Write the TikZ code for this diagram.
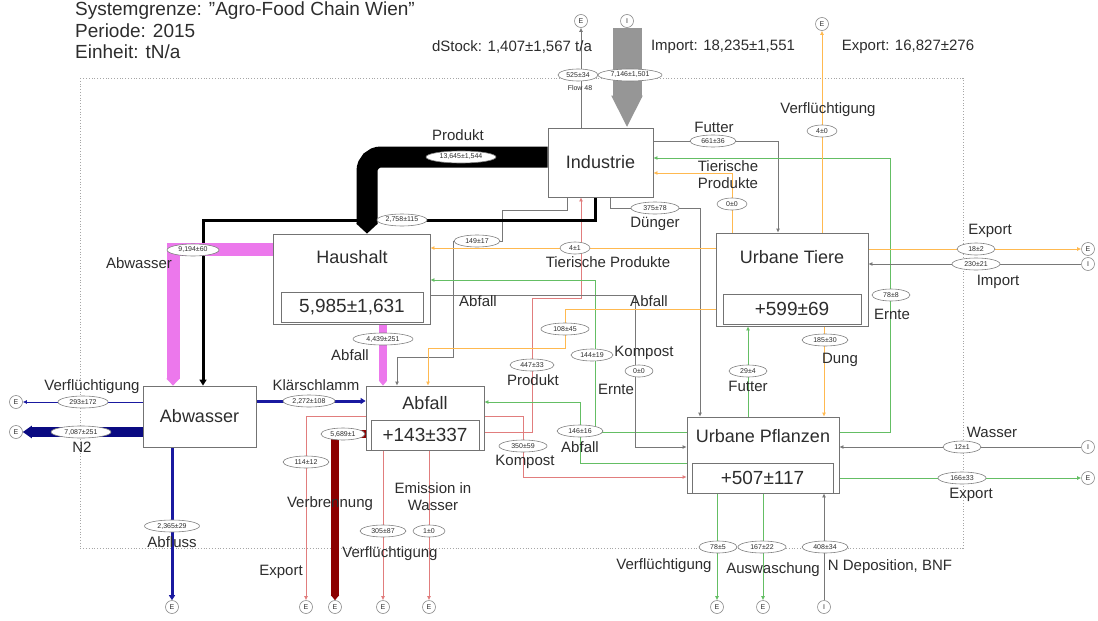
\documentclass[tikz,border=0pt]{standalone}
\usepackage{fontspec}
\setmainfont{Liberation Sans}
\usetikzlibrary{arrows.meta,calc,shapes.geometric}
\definecolor{cgray}{RGB}{120,120,120}
\definecolor{corange}{RGB}{255,185,80}
\definecolor{cgreen}{RGB}{100,190,100}
\definecolor{cred}{RGB}{225,125,125}
\definecolor{cdred}{RGB}{140,0,0}
\definecolor{cblue}{RGB}{25,25,160}
\definecolor{cnavy}{RGB}{10,10,130}
\definecolor{cpink}{RGB}{236,120,236}
\definecolor{cimp}{RGB}{150,150,150}
\definecolor{ctext}{RGB}{45,45,45}
\pgfdeclarelayer{bg}
\pgfdeclarelayer{edges}
\pgfsetlayers{bg,edges,main}
\begin{document}
\begin{tikzpicture}[x=1pt,y=-1pt,
  procbox/.style={draw=black!55,fill=white,line width=0.8pt,inner sep=0pt},
  innerbox/.style={draw=black!55,fill=white,line width=0.8pt,inner sep=0pt,font=\fontsize{19}{21}\selectfont,text=ctext},
  boxlbl/.style={inner sep=0pt,font=\fontsize{18}{20}\selectfont,text=ctext},
  lbl/.style={inner sep=0pt,font=\fontsize{15}{17}\selectfont,text=ctext,align=center},
  ttl/.style={inner sep=0pt,anchor=base west,font=\fontsize{19}{22}\selectfont,text=ctext},
  val/.style={ellipse,draw=black!50,fill=white,line width=0.6pt,inner sep=0pt,minimum height=12pt,font=\fontsize{7}{8}\selectfont,text=ctext},
  ept/.style={circle,draw=black!45,fill=white,line width=0.6pt,minimum size=13pt,inner sep=0pt,font=\fontsize{7}{7}\selectfont,text=ctext},
  tip/.style={-{Latex[length=4pt,width=4pt]}},
  fgray/.style={draw=cgray,line width=0.9pt,tip},
  forange/.style={draw=corange,line width=0.9pt,tip},
  fgreen/.style={draw=cgreen,line width=0.9pt,tip},
  fred/.style={draw=cred,line width=0.9pt,tip},
  fblue/.style={draw=cblue,line width=0.9pt,tip}
]
\useasboundingbox (0,0) rectangle (1098,621);
\begin{pgfonlayer}{bg}
\fill[white] (0,0) rectangle (1098,621);
\draw[black!35,line width=0.8pt,dotted] (80,78) rectangle (963,548);
\end{pgfonlayer}

% title
\node[ttl] (t1) at (75,16) {Systemgrenze: \symbol{34}Agro-Food Chain Wien\symbol{34}};
\node[ttl] (t2) at (75,37) {Periode: 2015};
\node[ttl] (t3) at (75,58) {Einheit: tN/a};
\node[lbl] (ds) at (512,47) {dStock: 1,407±1,567 t/a};
\node[lbl] (imp) at (723,47) {Import: 18,235±1,551};
\node[lbl] (exp) at (908,47) {Export: 16,827±276};

% process boxes
\node[procbox,minimum width=105pt,minimum height=69pt] (ind) at (600.5,162.5) {};
\node[boxlbl] (indl) at (ind.center) {Industrie};
\node[procbox,minimum width=157pt,minimum height=90pt] (hh) at (351.5,279) {};
\node[boxlbl] (hhl) at (352,257) {Haushalt};
\node[innerbox,minimum width=142pt,minimum height=30pt] (hhv) at (352,307) {5,985±1,631};
\node[procbox,minimum width=152pt,minimum height=93pt] (ut) at (792,279.5) {};
\node[boxlbl] (utl) at (792,257) {Urbane Tiere};
\node[innerbox,minimum width=138pt,minimum height=30pt] (utv) at (792,309) {+599±69};
\node[procbox,minimum width=113pt,minimum height=61pt] (aw) at (199.5,416.5) {};
\node[boxlbl] (awl) at (aw.center) {Abwasser};
\node[procbox,minimum width=118pt,minimum height=64pt] (abf) at (425,418) {};
\node[boxlbl] (abfl) at (425,403) {Abfall};
\node[innerbox,minimum width=108pt,minimum height=30pt] (abfv) at (425,435) {+143±337};
\node[procbox,minimum width=152pt,minimum height=76pt] (pf) at (763,455) {};
\node[boxlbl] (pfl) at (763,436) {Urbane Pflanzen};
\node[innerbox,minimum width=141pt,minimum height=30pt] (pfv) at (762.5,478) {+507±117};

% end points
\node[ept] (eInd) at (581,21) {E};
\node[ept] (iInd) at (627,21) {I};
\node[ept] (eTv) at (822,24) {E};
\node[ept] (eTx) at (1088,249) {E};
\node[ept] (iTi) at (1088,264) {I};
\node[ept] (iW) at (1088,447) {I};
\node[ept] (ePx) at (1088,478) {E};
\node[ept] (ePv) at (717,607) {E};
\node[ept] (ePa) at (763,607) {E};
\node[ept] (iPn) at (824,607) {I};
\node[ept] (eAv) at (16,402) {E};
\node[ept] (eN2) at (16,432) {E};
\node[ept] (eAb) at (172,607) {E};
\node[ept] (eFx) at (306,607) {E};
\node[ept] (eFb) at (335,607) {E};
\node[ept] (eFv) at (383,607) {E};
\node[ept] (eFw) at (429,607) {E};

\begin{pgfonlayer}{edges}
% thin flows
\draw[fgray] (ind.north -| eInd) -- (eInd);
\draw[fgray] (ind.east |- 0,141) -- (778,141) -- (ut.north -| 778,0);
\draw[fgreen] (pf.east |- 0,432) -- (890,432) -- (890,158) -- (ind.east |- 0,158);
\draw[forange] (ut.north -| 732,0) -- (732,173) -- (ind.east |- 0,173);
\draw[fgray] (ind.south -| 610,0) -- (610,208) -- (700,208) -- (pf.north -| 700,0);
\draw[fgray] (ind.south -| 567,0) -- (567,210) -- (502,210) -- (502,241) -- (453,241) -- (453,357) -- (397,357) -- (abf.north -| 397,0);
\draw[fred] (abf.east |- 0,432) -- (532,432) -- (532,298) -- (581,298) -- (ind.south -| 581,0);
\draw[fred] (abf.east |- 0,416) -- (523,416) -- (523,477) -- (pf.west |- 0,477);
\draw[fgreen] (pf.west |- 0,463) -- (580,463) -- (580,402) -- (abf.east |- 0,402);
\draw[fgreen] (pf.west |- 0,432) -- (595,432) -- (595,280) -- (hh.east |- 0,280);
\draw[fgray] (hh.east |- 0,295) -- (635,295) -- (635,447) -- (pf.west |- 0,447);
\draw[forange] (ut.west |- 0,248) -- (hh.east |- 0,248);
\draw[forange] (ut.west |- 0,309) -- (565,309) -- (565,348) -- (428,348) -- (abf.north -| 428,0);
\draw[forange] (ut.east |- 0,249) -- (eTx);
\draw[fgray] (iTi) -- (ut.east |- 0,264);
\draw[forange] (ut.north -| eTv) -- (eTv);
\draw[fgreen] (pf.north -| 748,0) -- (ut.south -| 748,0);
\draw[forange] (ut.south -| 824,0) -- (pf.north -| 824,0);
\draw[fgray] (iW) -- (pf.east |- 0,447);
\draw[fgreen] (pf.east |- 0,478) -- (ePx);
\draw[fgreen] (pf.south -| ePv) -- (ePv);
\draw[fgreen] (pf.south -| ePa) -- (ePa);
\draw[fgray] (iPn) -- (pf.south -| iPn);
\draw[fred] (abf.west |- 0,416) -- (306,416) -- (eFx);
\draw[fred] (abf.south -| eFv) -- (eFv);
\draw[fred] (abf.south -| eFw) -- (eFw);
\draw[fblue] (aw.west |- 0,402) -- (eAv);
% thick flows
\draw[cimp,line width=29pt,-{Triangle[length=32pt,width=29pt]}] (iInd.south) -- (ind.north -| iInd);
\draw[black,line width=21pt,rounded corners=14pt,-{Triangle[length=10pt,width=21pt]}] (ind.west |- 0,157) -- (367,157) -- (hh.north -| 367,0);
\draw[black,line width=3pt,-{Triangle[length=6pt,width=7pt]}] (ind.south -| 595,0) -- (595,220) -- (203,220) -- (aw.north -| 203,0);
\draw[cpink,line width=13pt,-{Triangle[length=7pt,width=13pt]}] (hh.west |- 0,249.5) -- (173,249.5) -- (aw.north -| 173,0);
\draw[cpink,line width=8pt,-{Triangle[length=5pt,width=8pt]}] (hh.south -| 383,0) -- (abf.north -| 383,0);
\draw[cblue,line width=3pt,-{Triangle[length=5pt,width=6pt]}] (aw.east |- 0,401) -- (abf.west |- 0,401);
\draw[cnavy,line width=10pt,-{Triangle[length=9pt,width=12pt]}] (aw.west |- 0,432) -- (eN2);
\draw[cblue,line width=3pt,-{Triangle[length=5pt,width=6pt]}] (aw.south -| eAb) -- (eAb);
\draw[cdred,line width=8pt,-{Triangle[length=5pt,width=8pt]}] (abf.west |- 0,434) -- (335,434) -- (eFb);
\end{pgfonlayer}

% value ellipses
\node[val,minimum width=40pt] (v1) at (578,75) {525±34};
\node[val,minimum width=64pt] (v2) at (630,75) {7,146±1,501};
\node[inner sep=0pt,font=\fontsize{7}{8}\selectfont,text=ctext] (f48) at (580,88) {Flow 48};
\node[val,minimum width=70pt] (v3) at (461,157) {13,645±1,544};
\node[val,minimum width=50pt] (v4) at (402,220) {2,758±115};
\node[val,minimum width=52pt] (v5) at (193,250) {9,194±60};
\node[val,minimum width=60pt] (v6) at (383,339) {4,439±251};
\node[val,minimum width=52pt] (v7) at (309,401) {2,272±108};
\node[val,minimum width=50pt] (v8) at (83,402) {293±172};
\node[val,minimum width=60pt] (v9) at (81,432) {7,087±251};
\node[val,minimum width=55pt] (v10) at (172,526) {2,365±29};
\node[val,minimum width=46pt] (v11) at (306,462) {114±12};
\node[val,minimum width=44pt] (v12) at (343,434) {5,689±1};
\node[val,minimum width=46pt] (v13) at (383,531) {305±87};
\node[val,minimum width=32pt] (v14) at (429,531) {1±0};
\node[val,minimum width=46pt] (v15) at (713,141) {661±36};
\node[val,minimum width=30pt] (v16) at (732,204) {0±0};
\node[val,minimum width=48pt] (v17) at (655,208) {375±78};
\node[val,minimum width=46pt] (v18) at (477,241) {149±17};
\node[val,minimum width=30pt] (v19) at (575,248) {4±1};
\node[val,minimum width=48pt] (v20) at (565,329) {108±45};
\node[val,minimum width=44pt] (v21) at (532,365) {447±33};
\node[val,minimum width=42pt] (v22) at (592,355) {144±19};
\node[val,minimum width=28pt] (v23) at (639,371) {0±0};
\node[val,minimum width=46pt] (v24) at (580,431) {146±16};
\node[val,minimum width=48pt] (v25) at (523,446) {350±59};
\node[val,minimum width=38pt] (v26) at (748,371) {29±4};
\node[val,minimum width=46pt] (v27) at (825,340) {185±30};
\node[val,minimum width=38pt] (v28) at (891,295) {78±8};
\node[val,minimum width=38pt] (v29) at (976,249) {18±2};
\node[val,minimum width=48pt] (v30) at (976,264) {230±21};
\node[val,minimum width=30pt] (v31) at (822,131) {4±0};
\node[val,minimum width=38pt] (v32) at (962,447) {12±1};
\node[val,minimum width=48pt] (v33) at (962,478) {166±33};
\node[val,minimum width=38pt] (v34) at (718,547) {78±5};
\node[val,minimum width=48pt] (v35) at (762,547) {167±22};
\node[val,minimum width=46pt] (v36) at (825,547) {408±34};

% flow labels
\node[lbl] (l1) at (458,135) {Produkt};
\node[lbl] (l2) at (139,263) {Abwasser};
\node[lbl] (l3) at (350,355) {Abfall};
\node[lbl] (l4) at (316,385) {Klärschlamm};
\node[lbl] (l5) at (92,387) {Verflüchtigung};
\node[lbl] (l6) at (82,447) {N2};
\node[lbl] (l7) at (172,542) {Abfluss};
\node[lbl] (l8) at (330,504) {Verbrennung};
\node[lbl] (l9) at (281,572) {Export};
\node[lbl] (l10) at (390,554) {Verflüchtigung};
\node[lbl] (l11) at (433,497) {Emission in\\Wasser};
\node[lbl] (l12) at (714,127) {Futter};
\node[lbl] (l13) at (728,175) {Tierische\\Produkte};
\node[lbl] (l14) at (655,224) {Dünger};
\node[lbl] (l15) at (608,262) {Tierische Produkte};
\node[lbl] (l16) at (478,301) {Abfall};
\node[lbl] (l17) at (649,301) {Abfall};
\node[lbl] (l18) at (533,380) {Produkt};
\node[lbl] (l19) at (644,353) {Kompost};
\node[lbl] (l20) at (616,389) {Ernte};
\node[lbl] (l21) at (580,447) {Abfall};
\node[lbl] (l22) at (525,462) {Kompost};
\node[lbl] (l23) at (748,386) {Futter};
\node[lbl] (l24) at (840,360) {Dung};
\node[lbl] (l25) at (892,314) {Ernte};
\node[lbl] (l26) at (990,231) {Export};
\node[lbl] (l27) at (998,282) {Import};
\node[lbl] (l28) at (828,110) {Verflüchtigung};
\node[lbl] (l29) at (992,432) {Wasser};
\node[lbl] (l30) at (971,495) {Export};
\node[lbl] (l31) at (664,566) {Verflüchtigung};
\node[lbl] (l32) at (773,570) {Auswaschung};
\node[lbl] (l33) at (890,567) {N Deposition, BNF};
\end{tikzpicture}
\end{document}
